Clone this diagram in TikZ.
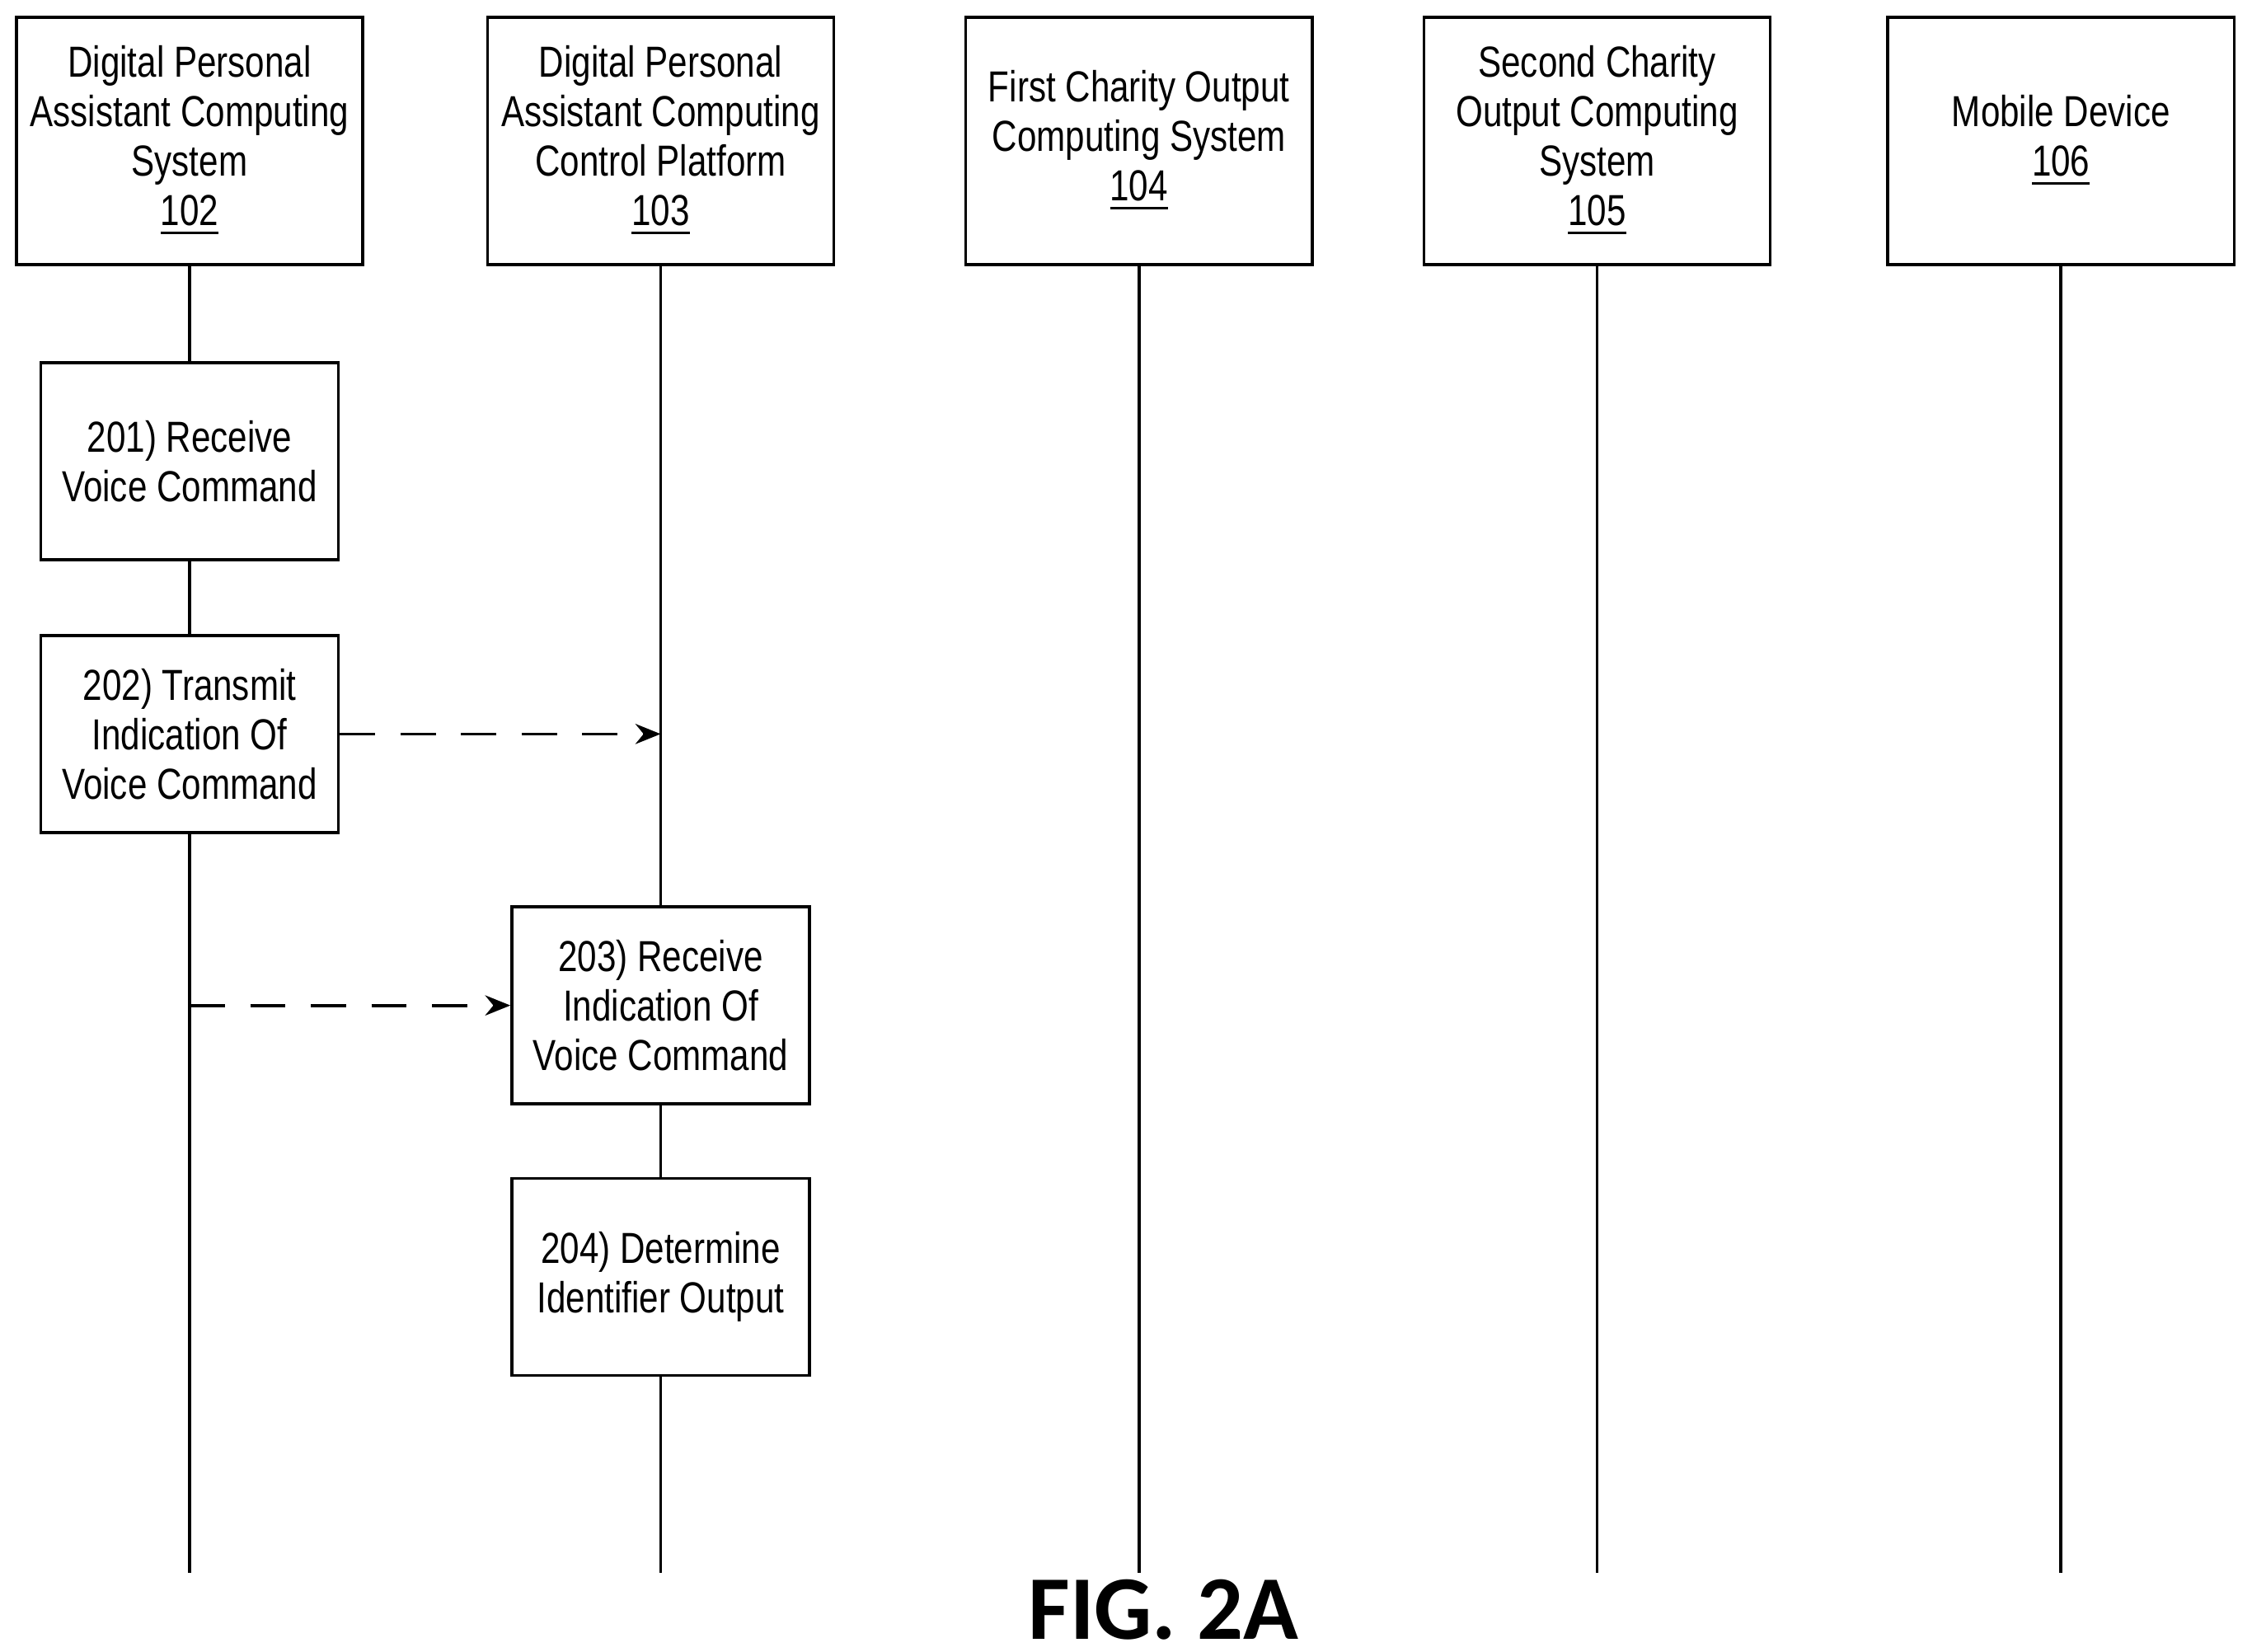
\documentclass[tikz,border=0pt]{standalone}
\usepackage{fontspec}
\setmainfont{Liberation Sans}[FakeStretch=0.8]
\newfontfamily\figfont{Carlito}
\usetikzlibrary{arrows.meta}
\begin{document}
\begin{tikzpicture}[x=0.01cm,y=-0.01cm,
  hdr/.style={draw,line width=0.6pt,minimum width=2.41cm,minimum height=1.72cm,align=center,font=\fontsize{8.6}{9.8}\selectfont,inner sep=0pt},
  stepbox/.style={draw,line width=0.6pt,minimum width=2.07cm,minimum height=1.37cm,align=center,font=\fontsize{8.6}{9.8}\selectfont,inner sep=0pt,fill=white},
  life/.style={line width=0.6pt},
  msg/.style={line width=0.6pt,dash pattern=on 7pt off 5pt,-{Stealth[length=5pt,width=4pt]}}]
\useasboundingbox (0,0) rectangle (1568,1150);
\node[hdr] (h102) at (132,98) {Digital Personal\\Assistant Computing\\System\\\underline{102}};
\node[hdr] (h103) at (460,98) {Digital Personal\\Assistant Computing\\Control Platform\\\underline{103}};
\node[hdr] (h104) at (793,98) {First Charity Output\\Computing System\\\underline{104}};
\node[hdr] (h105) at (1112,98) {Second Charity\\Output Computing\\System\\\underline{105}};
\node[hdr] (h106) at (1435,98) {Mobile Device\\\underline{106}};
\coordinate (e102) at (132,1095);
\coordinate (e103) at (460,1095);
\coordinate (e104) at (793,1095);
\coordinate (e105) at (1112,1095);
\coordinate (e106) at (1435,1095);
\draw[life] (h102) -- (e102);
\draw[life] (h103) -- (e103);
\draw[life] (h104) -- (e104);
\draw[life] (h105) -- (e105);
\draw[life] (h106) -- (e106);
\node[stepbox] (s201) at (132,321) {201) Receive\\Voice Command};
\node[stepbox] (s202) at (132,511) {202) Transmit\\Indication Of\\Voice Command};
\node[stepbox] (s203) at (460,700) {203) Receive\\Indication Of\\Voice Command};
\node[stepbox] (s204) at (460,889) {204) Determine\\Identifier Output};
\coordinate (a1) at (460,511);
\coordinate (a2) at (132,700);
\draw[msg] (s202.east) -- (a1);
\draw[msg] (a2) -- (s203.west);
\node[font=\figfont\bfseries\fontsize{18}{20}\selectfont,inner sep=1pt] (fig) at (810,1121) {FIG. 2A};
\end{tikzpicture}
\end{document}
